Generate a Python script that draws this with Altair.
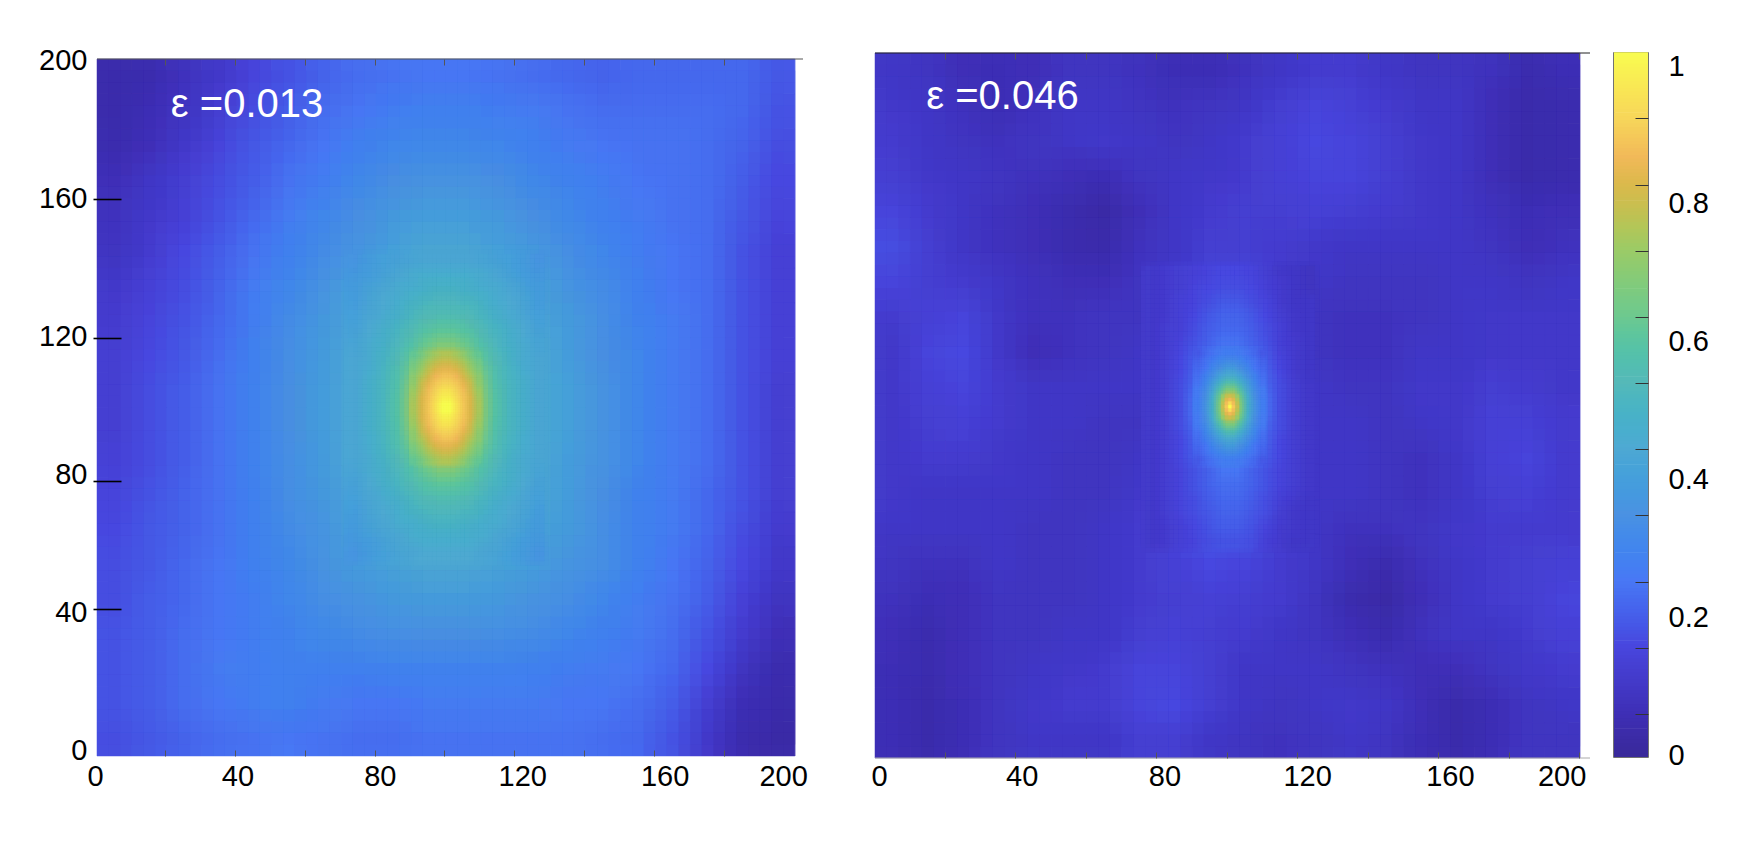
import altair as alt
import pandas as pd

alt.data_transformers.disable_max_rows()

FONT = "Liberation Sans"
LABEL_SIZE = 29

# colour map
CMAP_STOPS = [0, .06, .155, .249, .344, .4375, .531, .625, .719, .78, .8125, .85, .9, 1]
CMAP_COLORS = ["#39299a", "#3e2fb6", "#4846de", "#4978f5", "#4b92e2", "#4fa9d3", "#55b9b8",
               "#6ec98e", "#9ccb66", "#c8bf50", "#dcb94c", "#f1b959", "#f6d45a", "#f8fd50"]

# ---- left panel, values in percent, rows from top to bottom
L_BG = [
 [4,5,8,11,15,18,21,23,24,25,25,24,23,22,21,22,22,22,22,19],
 [4,6,9,13,17,20,23,25,27,28,28,27,26,24,23,23,23,23,22,18],
 [5,7,11,15,19,22,25,28,30,31,31,30,28,26,25,24,24,23,21,17],
 [7,10,13,17,20,24,27,31,34,35,35,34,31,29,27,25,24,23,20,16],
 [8,11,14,18,22,26,30,34,37,39,39,37,34,31,28,26,24,23,19,15],
 [9,12,16,20,24,28,32,36,40,43,43,40,37,33,30,27,25,23,18,14],
 [11,14,17,21,26,30,35,40,45,48,48,45,41,36,32,28,25,23,18,14],
 [12,15,18,22,27,32,37,42,48,55,55,48,43,38,33,29,26,23,18,14],
 [13,16,19,23,28,33,38,43,50,65,65,50,44,39,34,30,26,23,18,14],
 [13,17,20,24,29,34,39,44,55,90,90,55,45,40,35,30,26,23,18,13],
 [13,17,20,24,29,34,39,44,55,90,90,55,45,40,35,30,26,23,18,13],
 [14,17,20,24,29,33,38,44,52,70,70,52,44,39,35,30,26,23,18,13],
 [15,18,21,24,28,33,37,42,48,56,56,48,43,39,34,29,26,22,18,13],
 [16,19,21,24,28,32,36,41,46,50,50,47,42,38,33,29,26,22,17,12],
 [17,19,22,25,28,31,35,38,41,43,43,41,39,36,33,29,25,21,16,11],
 [17,20,22,25,27,30,33,35,37,38,38,37,35,33,30,27,24,20,14,9],
 [18,20,23,25,27,29,31,32,33,34,34,33,32,30,28,26,23,18,12,7],
 [18,20,23,26,27,28,28,28,29,29,29,29,28,27,26,25,22,16,9,5],
 [18,20,23,25,27,28,26,25,25,26,26,26,26,25,25,23,20,13,6,4],
 [17,19,21,23,24,25,24,23,23,24,24,24,24,24,23,22,18,11,5,3],
]
L_MID = [
 [36,38,40,41,42,43,43,43,43,42,41,40,38,36],
 [37,39,41,43,45,46,46,46,46,45,43,41,39,37],
 [38,41,43,45,46,48,49,49,48,46,45,43,41,38],
 [39,42,44,46,49,51,52,52,51,49,46,44,42,39],
 [40,43,45,48,51,54,55,55,54,51,48,45,43,40],
 [41,44,47,50,54,58,60,60,58,54,50,47,44,41],
 [42,45,48,52,57,62,67,67,62,57,52,48,45,42],
 [43,45,49,54,60,69,76,76,69,60,54,49,45,43],
 [43,46,50,56,64,76,84,84,76,64,56,50,46,43],
 [43,47,51,57,68,82,91,91,82,68,57,51,47,43],
 [43,47,51,58,70,84,96,96,84,70,58,51,47,43],
 [43,47,51,58,70,84,96,96,84,70,58,51,47,43],
 [43,47,51,57,68,82,91,91,82,68,57,51,47,43],
 [43,46,50,56,64,76,84,84,76,64,56,50,46,43],
 [43,45,49,54,60,69,76,76,69,60,54,49,45,43],
 [42,45,48,52,57,62,67,67,62,57,52,48,45,42],
 [41,44,47,50,54,58,60,60,58,54,50,47,44,41],
 [40,43,45,48,51,54,55,55,54,51,48,45,43,40],
 [39,42,44,46,49,51,52,52,51,49,46,44,42,39],
 [38,41,43,45,46,48,49,49,48,46,45,43,41,38],
 [37,39,41,43,45,46,46,46,46,45,43,41,39,37],
 [36,38,40,42,43,44,44,44,44,43,42,40,38,36],
]
L_INNER = [
 [61,65,70,73,75,75,73,70,65,61],
 [64,69,74,77,79,79,77,74,69,64],
 [66,72,77,81,83,83,81,77,72,66],
 [69,75,80,85,87,87,85,80,75,69],
 [70,78,83,88,90,90,88,83,78,70],
 [72,79,86,90,94,94,90,86,79,72],
 [73,81,87,92,97,97,92,87,81,73],
 [74,81,88,94,100,100,94,88,81,74],
 [74,81,88,94,100,100,94,88,81,74],
 [73,81,87,92,97,97,92,87,81,73],
 [72,79,86,90,94,94,90,86,79,72],
 [70,78,83,88,90,90,88,83,78,70],
 [69,75,80,85,87,87,85,80,75,69],
 [66,72,77,81,83,83,81,77,72,66],
 [64,69,74,77,79,79,77,74,69,64],
 [61,65,70,73,75,75,73,70,65,61],
]

# ---- right panel
R_BG = [
 [10,9,7,6,7,9,9,8,6,6,8,10,12,12,10,9,9,8,5,6],
 [11,10,8,6,8,10,10,9,8,9,10,13,15,14,12,10,10,7,4,5],
 [12,10,9,8,9,10,11,10,9,10,12,14,16,15,13,11,10,7,4,5],
 [13,11,10,9,8,7,6,9,10,11,12,14,15,15,13,11,10,7,4,5],
 [15,12,10,8,7,5,3,7,10,12,13,13,14,13,12,11,10,8,6,7],
 [17,13,10,8,7,5,4,8,10,13,13,12,11,10,10,10,10,9,7,8],
 [15,13,12,10,8,7,7,9,11,15,15,12,10,9,9,9,10,10,9,10],
 [12,14,15,11,8,8,9,9,12,18,18,12,9,8,8,9,10,11,11,11],
 [11,15,16,11,7,8,9,10,12,20,20,12,9,8,8,10,10,11,11,11],
 [11,14,15,12,10,10,10,10,13,40,40,13,10,9,9,11,11,13,12,11],
 [11,13,14,12,10,10,9,9,13,30,30,13,10,10,9,10,11,14,14,12],
 [11,12,12,11,10,9,9,10,14,24,24,13,10,10,9,8,10,14,15,12],
 [11,10,10,10,10,9,9,11,15,21,21,13,10,10,9,8,10,13,14,12],
 [10,10,10,10,9,9,10,12,15,19,18,13,10,8,8,9,11,12,12,12],
 [9,8,8,10,9,9,10,12,14,16,15,12,10,7,5,8,10,12,13,14],
 [8,6,7,9,9,9,10,12,13,14,13,12,9,5,3,7,10,12,13,15],
 [7,5,7,9,9,10,10,13,14,13,12,10,9,7,5,8,10,10,12,14],
 [6,5,7,9,10,11,12,15,15,13,10,10,10,9,8,7,7,9,11,12],
 [6,4,6,9,11,12,12,15,16,13,10,9,10,11,10,7,4,6,9,10],
 [6,4,6,9,10,10,10,13,13,10,9,8,9,10,9,6,4,6,9,9],
]
R_MID = [
 [11,12,13,14,15,16,16,15,13,11,10,9],
 [11,12,13,15,16,17,17,16,14,12,10,9],
 [11,12,14,15,17,19,19,17,15,12,10,10],
 [11,12,14,16,19,21,21,19,16,13,11,10],
 [11,13,14,17,20,22,22,20,17,14,11,10],
 [11,13,15,18,21,24,24,21,18,14,12,10],
 [11,13,16,20,25,30,30,25,20,15,12,10],
 [11,13,16,21,29,40,40,29,21,16,12,10],
 [11,13,17,22,35,57,57,35,22,17,13,11],
 [11,13,17,24,40,75,75,40,24,17,13,11],
 [11,13,17,24,40,75,75,40,24,17,13,11],
 [11,13,17,22,35,57,57,35,22,17,13,11],
 [11,13,16,21,29,40,40,29,21,16,13,11],
 [11,13,16,20,25,30,30,25,20,16,13,11],
 [11,13,15,18,21,25,25,21,18,15,13,11],
 [11,13,15,18,21,23,23,21,18,15,13,11],
 [11,13,15,17,20,22,22,20,17,14,12,10],
 [11,13,15,17,19,21,21,19,17,13,11,10],
 [11,12,14,16,18,20,20,18,15,12,11,10],
 [11,12,14,15,17,18,18,17,14,12,10,10],
]
R_INNER = [
 [19,22,24,26,27,27,26,24,22,19],
 [21,24,27,30,32,32,30,27,24,21],
 [22,25,30,34,38,38,34,30,25,22],
 [23,28,33,40,45,45,40,33,28,23],
 [24,30,38,47,55,55,47,38,30,24],
 [26,32,42,56,66,66,56,42,32,26],
 [26,34,46,62,77,77,62,46,34,26],
 [27,35,48,66,86,86,66,48,35,27],
 [27,35,48,66,86,86,66,48,35,27],
 [26,34,46,62,77,77,62,46,34,26],
 [26,32,42,56,66,66,56,42,32,26],
 [24,30,38,47,55,55,47,38,30,24],
 [23,28,33,40,45,45,40,33,28,23],
 [22,25,30,34,38,38,34,30,25,22],
 [21,24,27,30,32,32,30,27,24,21],
 [19,22,24,26,27,27,26,24,22,19],
]
R_CORE = [
 [71,77,79,77,71],
 [74,82,85,82,74],
 [76,86,92,86,76],
 [78,88,100,88,78],
 [76,86,92,86,76],
 [74,82,85,82,74],
 [71,77,79,77,71],
]

X_LABELS = [0, 40, 80, 120, 160]
Y_LABELS = [0, 40, 80, 120, 160, 200]
MINOR_TICKS = [20, 40, 60, 80, 100, 120, 140, 160, 180]
L_BLACK_TICKS = [42.2, 78.9, 119.9, 159.8]
CBAR_LABELS = [0, 0.2, 0.4, 0.6, 0.8, 1]
CBAR_TICKS = [.061, .155, .249, .344, .4375, .531, .625, .719, .8125, .908]

cscale = alt.Scale(domain=CMAP_STOPS, range=CMAP_COLORS)


def cells(rows, x0, y_top, dx, dy, xlim, ylim, smooth=True):
    shifts = [(0, 0)]
    if smooth:
        for a in (-1, 0, 1):
            for b in (-1, 0, 1):
                if a or b:
                    shifts.append((a * dx / 3, b * dy / 3))
    out = []
    for k, (sx, sy) in enumerate(shifts):
        op = 1 / (k + 1)
        for i, row in enumerate(rows):
            for j, v in enumerate(row):
                a = max(xlim[0], x0 + j * dx + sx)
                b = min(xlim[1], x0 + (j + 1) * dx + sx)
                c = max(ylim[0], y_top - (i + 1) * dy + sy)
                d = min(ylim[1], y_top - i * dy + sy)
                if b > a and d > c:
                    out.append(dict(a=a, b=b, c=c, d=d, v=v / 100, op=op,
                                    sw=0.5 if k == 0 else 0))
    return out


def sc(dom, rng=None):
    return alt.Scale(domain=dom, nice=False, zero=False, **({"range": rng} if rng else {}))


def heat(records, xs, ys):
    return alt.Chart(pd.DataFrame(records)).mark_rect().encode(
        x=alt.X("a:Q", scale=xs, axis=None),
        x2="b:Q",
        y=alt.Y("c:Q", scale=ys, axis=None),
        y2="d:Q",
        color=alt.Color("v:Q", scale=cscale, legend=None),
        stroke=alt.Stroke("v:Q", scale=cscale, legend=None),
        strokeWidth=alt.StrokeWidth("sw:Q", scale=None),
        opacity=alt.Opacity("op:Q", scale=None),
    )


def ghost(xscale=None, xaxis=None, yscale=None, yaxis=None):
    return alt.Chart(pd.DataFrame({"p": [0], "q": [0]})).mark_point(opacity=0).encode(
        x=alt.X("p:Q", scale=xscale or alt.Scale(domain=[0, 1]), axis=xaxis),
        y=alt.Y("q:Q", scale=yscale or alt.Scale(domain=[0, 1]), axis=yaxis),
    )


def label_axis(orient, values, **kw):
    return alt.Axis(orient=orient, values=values, title=None, grid=False, domain=False, ticks=False,
                    labelFont=FONT, labelFontSize=LABEL_SIZE, labelColor="black", labelOverlap=False,
                    labelFlush=False, format="d", **kw)


def tick_axis(orient, values, offset, size=6, color="#555", width=1):
    return alt.Axis(orient=orient, values=values, title=None, grid=False, domain=False, labels=False,
                    tickSize=size, tickColor=color, tickWidth=width, offset=offset, zindex=1)


def annotation(txt, x, y, xs, ys):
    return alt.Chart(pd.DataFrame({"x": [x], "y": [y], "t": [txt]})).mark_text(
        font=FONT, fontSize=40, color="white", align="left", baseline="middle"
    ).encode(x=alt.X("x:Q", scale=xs, axis=None), y=alt.Y("y:Q", scale=ys, axis=None), text="t:N")


def edge_line(px_y, x1, x2, color, width=1):
    return alt.Chart(pd.DataFrame({"k": [0]})).mark_rule(color=color, strokeWidth=width).encode(
        x=alt.value(x1), x2=alt.value(x2), y=alt.value(px_y))


# ---------- left panel
LW, VH = 699, 705
Lx, Ly, Lr = [0.57, 200.6], [0, 200], [703, 6]
Lxs, Lys = sc(Lx), sc(Ly, Lr)
rec = cells(L_BG, 0.57, 200, 9.985, 10, Lx, Ly)
rec += cells(L_MID, 72.5, 144, 4, 4, Lx, Ly)
rec += cells(L_INNER, 90.5, 116, 2, 2, Lx, Ly)
left = alt.layer(
    heat(rec, Lxs, Lys),
    ghost(xscale=sc([0, 196.9], [-2, 699]),
          xaxis=label_axis("bottom", X_LABELS + [193.3], labelPadding=4,
                           labelExpr="datum.value>180?'200':datum.label"),
          yscale=sc([-2.32, 202.3]), yaxis=label_axis("left", Y_LABELS, labelPadding=10)),
    ghost(xscale=Lxs, xaxis=tick_axis("top", MINOR_TICKS, -703)),
    ghost(xscale=Lxs, xaxis=tick_axis("bottom", MINOR_TICKS, -699)),
    ghost(yscale=Lys, yaxis=tick_axis("left", L_BLACK_TICKS, -24, size=28, color="black", width=1.6)),
    annotation("\u03b5 =0.013", 21.7, 186.8, Lxs, Lys),
    edge_line(6, 0, 706, "#555"),
).resolve_scale(x="independent", y="independent").properties(width=LW, height=VH)

# ---------- right panel: the view starts 46 px left of the image, to set the gap to the colour bar
RW, RP = 752, 46
Rx, Ry = [0.25, 200.4], [0.4, 200.4]
rr = [RP, 751.5]
Rxs, Rys = sc(Rx, rr), sc(Ry)
rec = cells(R_BG, 0.25, 200.4, 10, 10, Rx, Ry)
rec += cells(R_MID, 77, 140, 4, 4, Rx, Ry)
rec += cells(R_INNER, 91, 116, 2, 2, Rx, Ry)
rec += cells(R_CORE, 98.5, 103.5, 1, 1, Rx, Ry, smooth=False)
right = alt.layer(
    heat(rec, Rxs, Rys),
    ghost(xscale=sc([-1.12, 196.6], rr),
          xaxis=label_axis("bottom", X_LABELS + [191.3], labelPadding=4,
                           labelExpr="datum.value>180?'200':datum.label")),
    ghost(xscale=Rxs, xaxis=tick_axis("top", MINOR_TICKS + [200], -705)),
    ghost(xscale=Rxs, xaxis=tick_axis("bottom", MINOR_TICKS + [200], -705)),
    annotation("\u03b5 =0.046", 14.8, 187.8, Rxs, Rys),
    edge_line(0, RP, RP + 715, "#222"),
    edge_line(705, RP, RP + 715, "#aaa"),
).resolve_scale(x="independent", y="independent").properties(width=RW, height=VH)

# ---------- colour bar
levels = [i / 200 for i in range(200)]
bar_df = pd.DataFrame({"lo": levels, "hi": [v + 1 / 200 + 0.001 for v in levels]})
bar = alt.layer(
    alt.Chart(bar_df).mark_rect().encode(
        x=alt.value(0), x2=alt.value(34),
        y=alt.Y("lo:Q", scale=sc([0, 1]), axis=None), y2="hi:Q",
        color=alt.Color("lo:Q", scale=cscale, legend=None)),
    ghost(yscale=sc([0, 1]), yaxis=tick_axis("left", CBAR_TICKS, -34, size=13, color="#333")),
    ghost(yscale=sc([-0.0029, 1.0189]),
          yaxis=alt.Axis(orient="right", values=CBAR_LABELS, title=None, grid=False, domain=False, ticks=False,
                         labelFont=FONT, labelFontSize=LABEL_SIZE, labelColor="black", labelPadding=20,
                         labelAlign="left", labelOverlap=False, labelFlush=False,
                         labelExpr="format(datum.value,'~g')")),
).resolve_scale(x="independent", y="independent").properties(
    width=34, height=704, view=alt.ViewBackground(stroke="#444", strokeWidth=1.5))

chart = alt.hconcat(left, right, bar, spacing=33, bounds="flush").properties(
    padding={"left": 30, "top": 38, "right": 0, "bottom": 0}
).configure_view(stroke=None)

chart.save("out.html", embed_options={"renderer": "svg", "actions": False})
